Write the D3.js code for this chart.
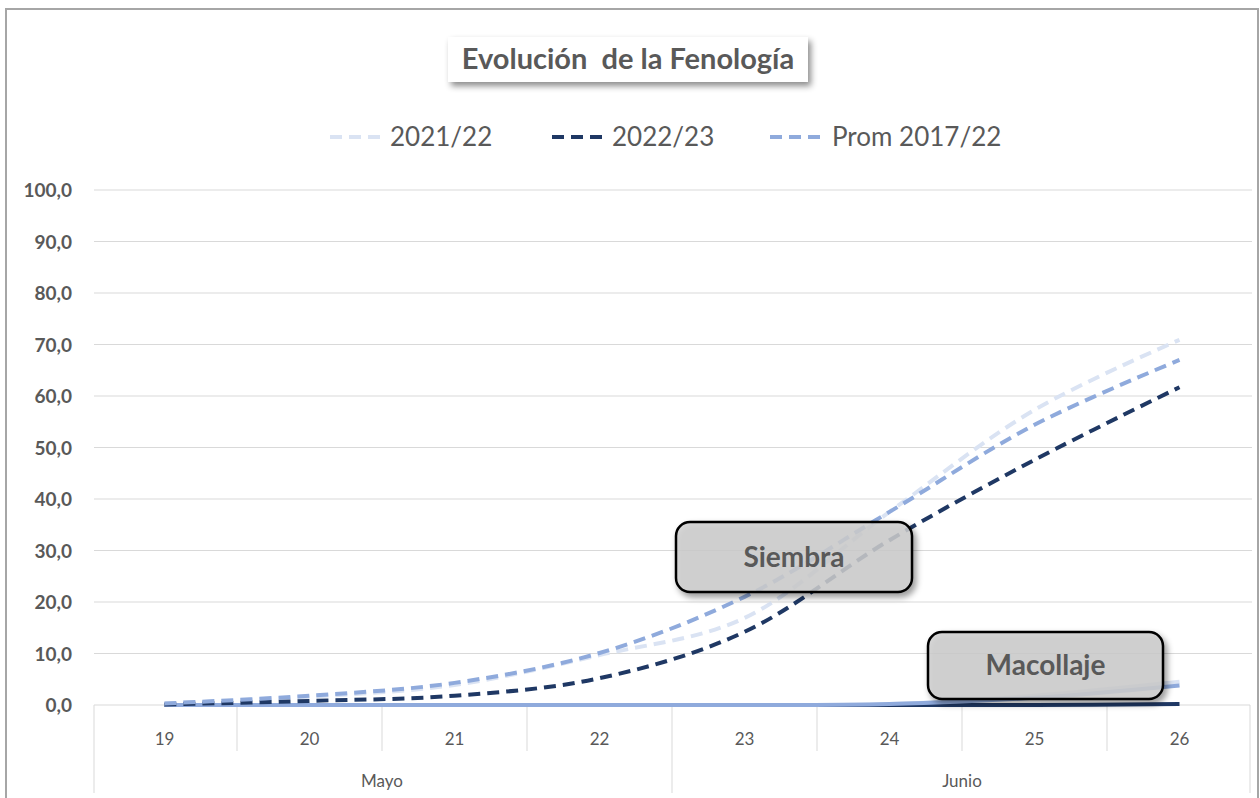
<!DOCTYPE html>
<html>
<head>
<meta charset="utf-8">
<script src="https://cdn.jsdelivr.net/npm/d3@7"></script>
<style>
  body { margin: 0; background: #fff; }
  svg { display: block; font-family: Lato, "Open Sans", sans-serif; }
</style>
</head>
<body>
<svg id="chart" width="1260" height="798"></svg>
<script>
// data
const days = ["19", "20", "21", "22", "23", "24", "25", "26"];
const months = ["Mayo", "Junio"];
const yTicks = [0, 10, 20, 30, 40, 50, 60, 70, 80, 90, 100];

// siembra (dashed)
const siembra2122 = [0.3, 1.6, 3.9, 9.7, 16.9, 37.5, 57.3, 70.9];
const siembra2223 = [0.1, 0.8, 1.8, 5.2, 14.2, 32.0, 47.6, 61.7];
const siembraProm = [0.3, 1.8, 4.3, 10.1, 21.0, 37.5, 54.4, 67.0];

// macollaje (solid, near zero)
const macollaje2122 = [0, 0, 0, 0, 0, 0.2, 1.8, 4.5];
const macollaje2223 = [0, 0, 0, 0, 0, 0, 0, 0.2];
const macollajeProm = [0, 0, 0, 0, 0, 0.2, 1.4, 3.8];

const seriesNames = ["2021/22", "2022/23", "Prom 2017/22"];
const seriesColors = ["#dae3f3", "#1f3864", "#8faadc"];

const svg = d3.select("#chart");
const textColor = "#595959";

// plot area
const plotLeft = 92, plotRight = 1252, plotTop = 190, plotBottom = 705;

const x = d3.scaleBand().domain(days).range([plotLeft, plotRight]);
const y = d3.scaleLinear().domain([0, 100]).range([plotBottom, plotTop]);

// drop shadow
const defs = svg.append("defs");
const shadow = defs.append("filter")
    .attr("id", "shadow")
    .attr("x", "-20%").attr("y", "-20%")
    .attr("width", "140%").attr("height", "150%");
shadow.append("feDropShadow")
    .attr("dx", 3).attr("dy", 4)
    .attr("stdDeviation", 3)
    .attr("flood-color", "#000")
    .attr("flood-opacity", 0.45);

// outer frame
svg.append("rect")
    .attr("x", 6).attr("y", 9)
    .attr("width", 1252).attr("height", 800)
    .attr("fill", "#fff")
    .attr("stroke", "#a6a6a6")
    .attr("stroke-width", 2);

// gridlines
svg.append("g")
    .selectAll("line")
    .data(yTicks.filter(d => d > 0))
    .enter()
    .append("line")
    .attr("x1", plotLeft + 2).attr("x2", plotRight)
    .attr("y1", d => y(d)).attr("y2", d => y(d))
    .attr("stroke", "#d9d9d9")
    .attr("stroke-width", 1);

// y axis labels
const yAxis = svg.append("g")
    .attr("transform", "translate(" + (plotLeft - 20) + ",0)")
    .call(d3.axisLeft(y).tickValues(yTicks).tickSize(0)
        .tickFormat(d => d3.format(".1f")(d).replace(".", ",")));
yAxis.select(".domain").remove();
yAxis.selectAll("text")
    .attr("x", 0)
    .attr("dy", "0.35em")
    .attr("fill", textColor)
    .attr("font-size", "19px")
    .attr("font-weight", 700)
    .attr("font-family", "Lato, sans-serif");

// category axis box
const axisG = svg.append("g").attr("stroke", "#d9d9d9").attr("stroke-width", 1);
axisG.append("line")
    .attr("x1", plotLeft + 2).attr("x2", plotRight - 2)
    .attr("y1", plotBottom).attr("y2", plotBottom);
axisG.append("line")
    .attr("x1", plotLeft + 2).attr("x2", plotLeft + 2)
    .attr("y1", plotBottom).attr("y2", 793);
axisG.append("line")
    .attr("x1", plotRight - 2).attr("x2", plotRight - 2)
    .attr("y1", plotBottom).attr("y2", 793);
// day separators
axisG.selectAll(".daySep")
    .data(days.slice(1))
    .enter()
    .append("line")
    .attr("class", "daySep")
    .attr("x1", d => x(d)).attr("x2", d => x(d))
    .attr("y1", plotBottom)
    .attr("y2", (d, i) => i === 3 ? 793 : 751);

// day labels
const xAxis = svg.append("g")
    .attr("transform", "translate(0," + plotBottom + ")")
    .call(d3.axisBottom(x).tickSize(0).tickPadding(0));
xAxis.select(".domain").remove();
xAxis.selectAll("text")
    .attr("y", 28)
    .attr("fill", textColor)
    .attr("font-size", "17px")
    .attr("font-family", "Lato, sans-serif");

// month labels
const monthX = d3.scaleBand().domain(months).range([plotLeft, plotRight]);
svg.append("g")
    .selectAll("text")
    .data(months)
    .enter()
    .append("text")
    .attr("x", d => monthX(d) + monthX.bandwidth() / 2)
    .attr("y", 787)
    .attr("text-anchor", "middle")
    .attr("fill", textColor)
    .attr("font-size", "17px")
    .text(d => d);

// lines
const line = d3.line()
    .x((d, i) => x(days[i]) + x.bandwidth() / 2)
    .y(d => y(d))
    .curve(d3.curveCatmullRom.alpha(0.5));

const macollaje = [macollaje2122, macollaje2223, macollajeProm];
const siembra = [siembra2122, siembra2223, siembraProm];

svg.append("g")
    .selectAll("path")
    .data(macollaje)
    .enter()
    .append("path")
    .attr("d", d => line(d))
    .attr("fill", "none")
    .attr("stroke", (d, i) => seriesColors[i])
    .attr("stroke-width", 4);

svg.append("g")
    .selectAll("path")
    .data(siembra)
    .enter()
    .append("path")
    .attr("d", d => line(d))
    .attr("fill", "none")
    .attr("stroke", (d, i) => seriesColors[i])
    .attr("stroke-width", 4)
    .attr("stroke-dasharray", "12,7");

// annotation boxes
function callout(x0, y0, w, h, label) {
    const g = svg.append("g");
    g.append("rect")
        .attr("x", x0).attr("y", y0)
        .attr("width", w).attr("height", h)
        .attr("rx", 14).attr("ry", 14)
        .attr("fill", "#cfcfcf")
        .attr("fill-opacity", 0.82)
        .attr("stroke", "#000")
        .attr("stroke-width", 2.5)
        .attr("filter", "url(#shadow)");
    g.append("text")
        .attr("x", x0 + w / 2)
        .attr("y", y0 + h / 2)
        .attr("dy", "0.35em")
        .attr("text-anchor", "middle")
        .attr("fill", textColor)
        .attr("font-size", "28px")
        .attr("font-weight", 700)
        .text(label);
}
callout(676, 522, 236, 70, "Siembra");
callout(928, 632, 235, 67, "Macollaje");

// title
svg.append("rect")
    .attr("x", 448).attr("y", 37)
    .attr("width", 360).attr("height", 45)
    .attr("fill", "#fff")
    .attr("filter", "url(#shadow)");
svg.append("text")
    .attr("x", 628).attr("y", 59)
    .attr("dy", "0.35em")
    .attr("text-anchor", "middle")
    .attr("fill", textColor)
    .attr("font-size", "29px")
    .attr("font-weight", 700)
    .attr("xml:space", "preserve")
    .text("Evolución  de la Fenología");

// legend
const legendX = [330, 552, 770];
const legend = svg.append("g")
    .selectAll("g")
    .data(seriesNames)
    .enter()
    .append("g")
    .attr("transform", (d, i) => "translate(" + legendX[i] + ",137)");
legend.append("line")
    .attr("x1", 0).attr("x2", 50)
    .attr("stroke", (d, i) => seriesColors[i])
    .attr("stroke-width", 4)
    .attr("stroke-dasharray", "12,7");
legend.append("text")
    .attr("x", (d, i) => i === 2 ? 62 : 60)
    .attr("dy", "0.35em")
    .attr("fill", textColor)
    .attr("font-size", "26px")
    .text(d => d);
</script>
</body>
</html>
